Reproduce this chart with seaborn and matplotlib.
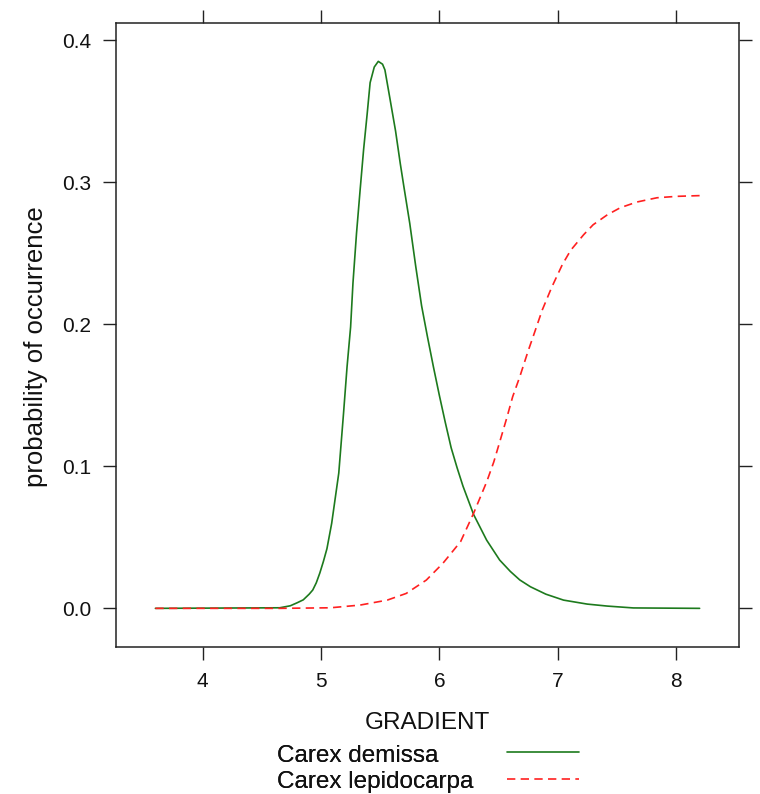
import matplotlib
matplotlib.use("Agg")
import matplotlib.pyplot as plt
import seaborn as sns
import pandas as pd

# ---- data ----
demissa_x = [3.60, 4.65, 4.74, 4.80, 4.85, 4.90, 4.93, 4.96, 4.99, 5.02, 5.05,
             5.09, 5.15, 5.19, 5.22, 5.25, 5.27, 5.30, 5.33, 5.36, 5.39, 5.415,
             5.45, 5.484, 5.52, 5.54, 5.58, 5.63, 5.67, 5.70, 5.75, 5.80, 5.85,
             5.90, 5.95, 6.00, 6.05, 6.10, 6.15, 6.20, 6.29, 6.40, 6.51, 6.60,
             6.68, 6.77, 6.90, 7.05, 7.25, 7.42, 7.64, 8.20]
demissa_y = [0.0, 0.0004, 0.0018, 0.004, 0.006, 0.010, 0.0129, 0.018, 0.0249,
             0.033, 0.042, 0.0598, 0.0952, 0.137, 0.170, 0.198, 0.229, 0.264,
             0.294, 0.323, 0.348, 0.370, 0.381, 0.385, 0.383, 0.379, 0.360,
             0.336, 0.313, 0.297, 0.271, 0.241, 0.213, 0.191, 0.170, 0.150,
             0.131, 0.113, 0.099, 0.086, 0.066, 0.048, 0.034, 0.026, 0.020,
             0.0152, 0.010, 0.0058, 0.003, 0.0016, 0.0003, 0.0]

lepido_x = [3.60, 4.65, 5.08, 5.33, 5.56, 5.72, 5.89, 6.03, 6.18, 6.29, 6.40,
            6.46, 6.51, 6.57, 6.62, 6.68, 6.75, 6.80, 6.87, 6.95, 7.04, 7.11,
            7.22, 7.30, 7.42, 7.53, 7.67, 7.84, 8.01, 8.20]
lepido_y = [0.0, 0.0, 0.0004, 0.0023, 0.0058, 0.0105, 0.0199, 0.0317, 0.047,
            0.067, 0.089, 0.103, 0.117, 0.134, 0.149, 0.163, 0.181, 0.193,
            0.210, 0.226, 0.242, 0.252, 0.263, 0.270, 0.277, 0.282, 0.286,
            0.289, 0.290, 0.2905]

species = ["Carex demissa", "Carex lepidocarpa"]
x_ticks = [4, 5, 6, 7, 8]
y_ticks = [0.0, 0.1, 0.2, 0.3, 0.4]
y_tick_labels = ["0.0", "0.1", "0.2", "0.3", "0.4"]

df = pd.concat([
    pd.DataFrame({"GRADIENT": demissa_x, "prob": demissa_y, "species": species[0]}),
    pd.DataFrame({"GRADIENT": lepido_x, "prob": lepido_y, "species": species[1]}),
], ignore_index=True)

# ---- style ----
sns.set_style("ticks")
plt.rcParams["font.family"] = ["Liberation Sans", "DejaVu Sans"]

W, H = 760, 794
fig = plt.figure(figsize=(W / 100, H / 100), dpi=100)
L, R, T, B = 116, 739, 23, 647
ax = fig.add_axes([L / W, 1 - B / H, (R - L) / W, (B - T) / H])

palette = {species[0]: "#1d7a1d", species[1]: "#ff2020"}
dashes = {species[0]: "", species[1]: (5, 3.2)}
sns.lineplot(data=df, x="GRADIENT", y="prob", hue="species", style="species",
             palette=palette, dashes=dashes, estimator=None, sort=True,
             linewidth=1.2, legend=False, ax=ax)

ax.set_xlim(3.267, 8.533)
ax.set_ylim(-0.0272, 0.412)
ax.set_xticks(x_ticks)
ax.set_xticklabels([str(v) for v in x_ticks])
ax.set_yticks(y_ticks)
ax.set_yticklabels(y_tick_labels)

for s in ax.spines.values():
    s.set_visible(True)
    s.set_color("#222222")
    s.set_linewidth(1.1)
ax.tick_params(axis="both", which="major", direction="out", length=9.3,
               width=1.0, color="#222222", labelsize=15, labelcolor="#111111",
               top=True, right=True, labeltop=False, labelright=False)
ax.tick_params(axis="x", pad=9.0)
ax.tick_params(axis="y", pad=8.5)

ax.set_xlabel("GRADIENT", fontsize=17.5, color="#111111")
ax.xaxis.label.set_va("baseline")
ax.xaxis.set_label_coords(0.5, (B - 729.3) / (B - T))
ax.set_ylabel("probability of occurrence", fontsize=18.5, color="#111111")
ax.yaxis.set_label_coords((48.3 - L) / (R - L), (B - 347) / (B - T))

# ---- legend: labels on the left, keys on the right ----
handles = ax.get_lines()[:2]
fs = 17.5
leg_text = fig.legend(handles, species, loc="upper left",
                      bbox_to_anchor=(277 / W, 1 - 744.5 / H),
                      frameon=False, fontsize=fs, handlelength=0,
                      handletextpad=0, borderpad=0, borderaxespad=0,
                      labelspacing=0.2)
for h in leg_text.legend_handles:
    h.set_visible(False)
for t in leg_text.get_texts():
    t.set_color("#111111")

leg_keys = fig.legend(handles, [" ", " "], loc="upper left",
                      bbox_to_anchor=(507 / W, 1 - 743.8 / H),
                      frameon=False, fontsize=fs, handlelength=2.96,
                      handletextpad=0, borderpad=0, borderaxespad=0,
                      labelspacing=0.2)
fig.add_artist(leg_text)

fig.savefig("out.png", dpi=100)
